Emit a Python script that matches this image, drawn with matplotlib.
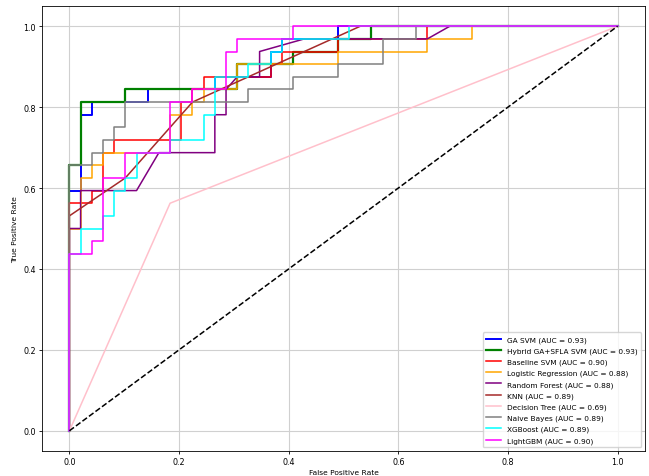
import matplotlib
matplotlib.use("Agg")
import matplotlib.pyplot as plt
import numpy as np

# Test set size: negatives and positives (ROC steps are counts of each)
N_NEG = 49
N_POS = 32

models = ["GA SVM", "Hybrid GA+SFLA SVM", "Baseline SVM", "Logistic Regression",
          "Random Forest", "KNN", "Decision Tree", "Naive Bayes", "XGBoost", "LightGBM"]
auc_values = [0.93, 0.93, 0.90, 0.88, 0.88, 0.89, 0.69, 0.89, 0.89, 0.90]
colors = ["blue", "green", "red", "orange", "purple", "brown", "pink", "gray", "cyan", "magenta"]

# ROC points as (false positives, true positives) counts
ga_svm_fp = [0, 0, 1, 1, 2, 2, 7, 7, 13, 13, 18, 18, 19, 19, 24, 24, 49]
ga_svm_tp = [0, 19, 19, 25, 25, 26, 26, 27, 27, 28, 28, 30, 30, 31, 31, 32, 32]

hybrid_fp = [0, 0, 1, 1, 5, 5, 15, 15, 20, 20, 24, 24, 27, 27, 49]
hybrid_tp = [0, 21, 21, 26, 26, 27, 27, 29, 29, 30, 30, 31, 31, 32, 32]

base_svm_fp = [0, 0, 2, 2, 3, 3, 4, 4, 10, 10, 11, 11, 12, 12, 18, 18, 19, 19, 24, 24, 32, 32, 49]
base_svm_tp = [0, 18, 18, 19, 19, 22, 22, 23, 23, 26, 26, 27, 27, 28, 28, 29, 29, 30, 30, 31, 31, 32, 32]

logreg_fp = [0, 0, 1, 1, 2, 2, 3, 3, 9, 9, 11, 11, 12, 12, 15, 15, 24, 24, 32, 32, 36, 36, 49]
logreg_tp = [0, 16, 16, 20, 20, 21, 21, 22, 22, 25, 25, 26, 26, 27, 27, 29, 29, 30, 30, 31, 31, 32, 32]

rf_fp = [0, 0, 1, 1, 6, 8, 13, 13, 14, 14, 15, 17, 17, 21, 32, 34, 49]
rf_tp = [0, 16, 16, 19, 19, 22, 22, 25, 25, 27, 28, 28, 30, 31, 31, 32, 32]

knn_fp = [0, 0, 5, 11, 26, 49]
knn_tp = [0, 17, 20, 26, 32, 32]

dt_fp = [0, 9, 49]
dt_tp = [0, 18, 32]

nb_fp = [0, 0, 2, 2, 3, 3, 4, 4, 5, 5, 16, 16, 20, 20, 24, 24, 28, 28, 31, 31, 49]
nb_tp = [0, 21, 21, 22, 22, 23, 23, 24, 24, 26, 26, 27, 27, 28, 28, 29, 29, 31, 31, 32, 32]

xgb_fp = [0, 0, 1, 1, 3, 3, 4, 4, 5, 5, 6, 6, 9, 9, 12, 12, 13, 13, 16, 16, 18, 18, 19, 19, 25, 25, 49]
xgb_tp = [0, 14, 14, 16, 16, 17, 17, 19, 19, 20, 20, 22, 22, 23, 23, 25, 25, 28, 28, 29, 29, 30, 30, 31, 31, 32, 32]

lgbm_fp = [0, 0, 2, 2, 3, 3, 5, 5, 9, 9, 11, 11, 14, 14, 15, 15, 20, 20, 49]
lgbm_tp = [0, 14, 14, 15, 15, 20, 20, 22, 22, 26, 26, 27, 27, 30, 30, 31, 31, 32, 32]

curves_fp = [ga_svm_fp, hybrid_fp, base_svm_fp, logreg_fp, rf_fp, knn_fp, dt_fp, nb_fp, xgb_fp, lgbm_fp]
curves_tp = [ga_svm_tp, hybrid_tp, base_svm_tp, logreg_tp, rf_tp, knn_tp, dt_tp, nb_tp, xgb_tp, lgbm_tp]
line_widths = [1.4, 1.6, 1.1, 1.1, 1.1, 1.1, 1.1, 1.1, 1.1, 1.1]

TICK_FS = 5.8
LABEL_FS = 5.4
LEGEND_FS = 5.3
plt.rcParams["font.family"] = ["DejaVu Sans"]

fig = plt.figure(figsize=(6.49, 4.77), dpi=100)
ax = fig.add_axes([42 / 649, 25 / 477, 603 / 649, 445 / 477])

for name, auc, col, fp, tp, lw in zip(models, auc_values, colors, curves_fp, curves_tp, line_widths):
    fpr = np.array(fp) / N_NEG
    tpr = np.array(tp) / N_POS
    ax.plot(fpr, tpr, color=col, lw=lw, label=f"{name} (AUC = {auc:.2f})")

ax.plot([0, 1], [0, 1], color="black", linestyle="--", lw=1.1)

ax.set_xlim(-0.05, 1.05)
ax.set_ylim(-0.05, 1.05)
ax.set_xticks([0.0, 0.2, 0.4, 0.6, 0.8, 1.0])
ax.set_yticks([0.0, 0.2, 0.4, 0.6, 0.8, 1.0])
ax.tick_params(labelsize=TICK_FS, length=2.5, width=0.6, pad=2)
ax.set_xlabel("False Positive Rate", fontsize=LABEL_FS, labelpad=2)
ax.set_ylabel("True Positive Rate", fontsize=LABEL_FS, labelpad=4)
ax.grid(True, color="#d0d0d0", lw=0.8)
ax.set_axisbelow(True)
for sp in ax.spines.values():
    sp.set_linewidth(0.6)

ax.legend(loc="lower right", fontsize=LEGEND_FS, framealpha=0.8, borderpad=0.5,
          handlelength=2.0, labelspacing=0.62)

fig.savefig("out.png", dpi=100)
